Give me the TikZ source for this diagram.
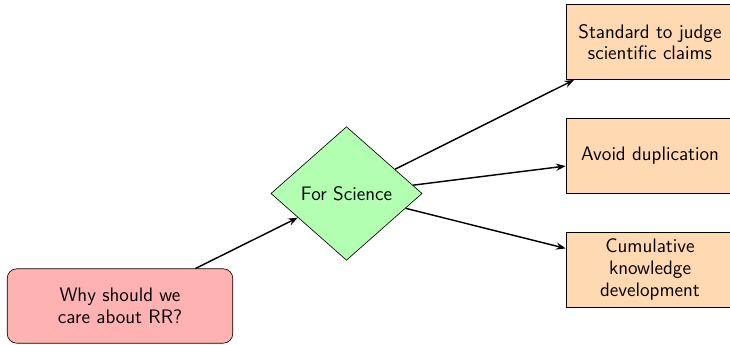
\documentclass[tikz,border=0pt]{standalone}
\usetikzlibrary{shapes.geometric,arrows.meta}
\begin{document}
\begin{tikzpicture}[x=0.625pt,y=-0.625pt,
  font=\sffamily\fontsize{12.2}{13.6}\selectfont,
  startbox/.style={draw, rounded corners=6pt, fill=red!30, align=center,
    minimum width=141pt, minimum height=46.5pt},
  decision/.style={draw, diamond, fill=green!30, aspect=1.13,
    minimum width=94.5pt, minimum height=83.5pt, inner sep=0pt},
  outcome/.style={draw, fill=orange!30, align=center,
    minimum width=105pt, minimum height=47pt},
  link/.style={-{Stealth[length=6pt,width=4.5pt]}, line width=0.9pt}]
  \useasboundingbox (0,0) rectangle (730,345);
  \node[startbox] (why) at (120,306) {Why should we\\care about RR?};
  \node[decision] (sci) at (346.5,193.5) {For Science};
  \node[outcome] (std) at (650,42) {Standard to judge\\scientific claims};
  \node[outcome] (dup) at (650,155.5) {Avoid duplication};
  \node[outcome] (cum) at (650,269.5) {Cumulative\\knowledge\\development};
  \draw[link] (why) -- (sci);
  \draw[link] (sci) -- (std);
  \draw[link] (sci) -- (dup);
  \draw[link] (sci) -- (cum);
\end{tikzpicture}
\end{document}
